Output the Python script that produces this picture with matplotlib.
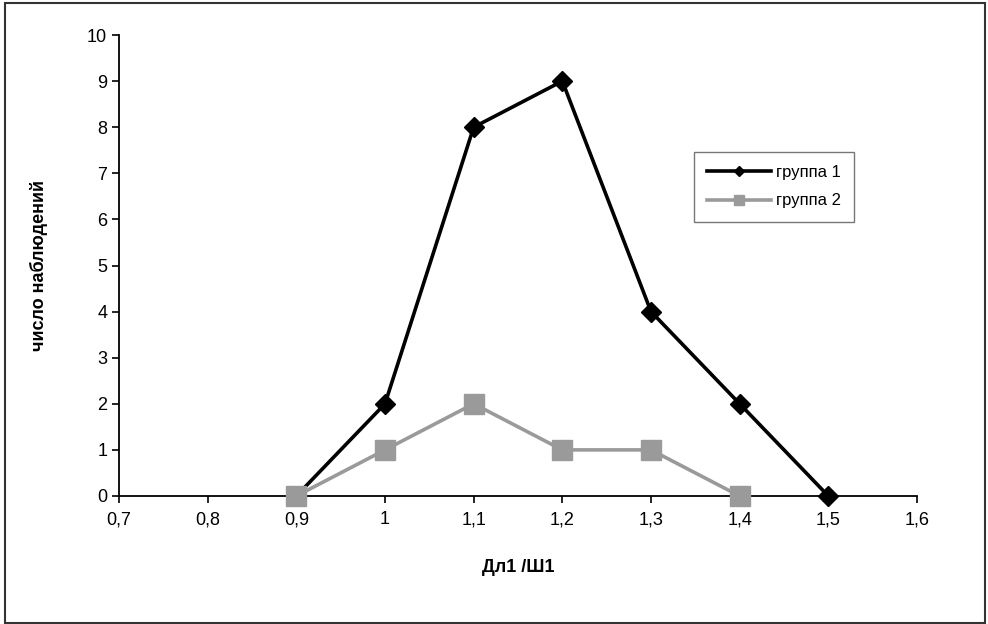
import matplotlib
matplotlib.use("Agg")
import matplotlib.pyplot as plt
from matplotlib.patches import Rectangle

x1 = [0.9, 1.0, 1.1, 1.2, 1.3, 1.4, 1.5]
group1 = [0, 2, 8, 9, 4, 2, 0]
x2 = [0.9, 1.0, 1.1, 1.2, 1.3, 1.4]
group2 = [0, 1, 2, 1, 1, 0]
xticks = [0.7, 0.8, 0.9, 1.0, 1.1, 1.2, 1.3, 1.4, 1.5, 1.6]
xticklabels = ["0,7", "0,8", "0,9", "1", "1,1", "1,2", "1,3", "1,4", "1,5", "1,6"]
yticks = list(range(0, 11))

plt.rcParams['font.family'] = ['Liberation Sans', 'DejaVu Sans']

fig = plt.figure(figsize=(9.88, 6.24), dpi=100)
ax = fig.add_axes([119/988, 1-496/624, (917-119)/988, (496-35)/624])

ax.plot(x1, group1, color='black', lw=2.6, marker='D', markersize=10,
        label='группа 1', zorder=3, clip_on=False)
ax.plot(x2, group2, color='#9a9a9a', lw=2.6, marker='s', markersize=14,
        label='группа 2', zorder=4, clip_on=False)

ax.set_xlim(0.7, 1.6)
ax.set_ylim(0, 10)
ax.set_xticks(xticks)
ax.set_xticklabels(xticklabels)
ax.set_yticks(yticks)
for s in ['top', 'right']:
    ax.spines[s].set_visible(False)
for s in ['left', 'bottom']:
    ax.spines[s].set_linewidth(1.3)
ax.tick_params(axis='both', direction='out', length=5, width=1.2,
               labelsize=13, colors='black')
ax.tick_params(axis='x', pad=6)
ax.set_xlabel('Дл1 /Ш1', fontsize=13, fontweight='bold', labelpad=22)
ax.set_ylabel('число наблюдений', fontsize=13, fontweight='bold', labelpad=28)

leg = ax.legend(loc='upper left', bbox_to_anchor=(0.71, 0.765), frameon=True,
                fancybox=False, edgecolor='#555555', fontsize=12,
                handlelength=3.8, borderpad=0.8, labelspacing=0.8,
                handletextpad=0.3, markerscale=0.5)
leg.get_frame().set_linewidth(1.0)

fig.patches.append(Rectangle((5/988, 1/624), 980/988, 620/624, transform=fig.transFigure,
                             fill=False, edgecolor='#333333', lw=1.5))

fig.savefig('out.png', dpi=100)
